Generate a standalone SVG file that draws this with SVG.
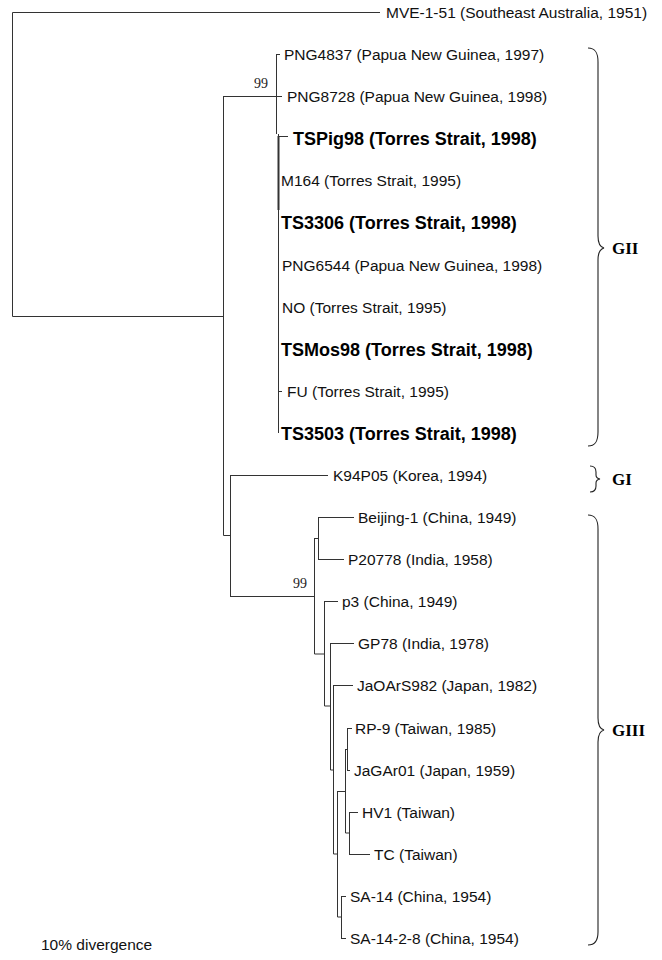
<svg xmlns="http://www.w3.org/2000/svg" width="662" height="960" viewBox="0 0 662 960">
<style>
.t{font-family:"Liberation Sans",Arial,sans-serif;font-size:15.5px;fill:#111}
.b{font-family:"Liberation Sans",Arial,sans-serif;font-size:18px;font-weight:bold;fill:#000}
.g{font-family:"Liberation Serif","Times New Roman",serif;font-size:17px;font-weight:bold;fill:#000}
.s{font-family:"Liberation Serif","Times New Roman",serif;font-size:14px;fill:#222}
.e{fill:none;stroke:#333;stroke-width:1}
.br{fill:none;stroke:#222;stroke-width:1.1}
</style>
<rect width="662" height="960" fill="#fff"/>
<g id="connectors" class="e">
<path d="M380,12.5H12.5V316.5H223.5"/>
<path d="M223.5,96.5V535.5H230.5"/>
<path d="M223,96.5H282"/>
<path d="M276.5,54V134"/>
<path d="M276,54.5H280"/>
<path d="M278.5,134V433"/>
<path d="M278,136.5H288"/>
<path d="M278.5,136V210" stroke-width="2"/>
<path d="M278,391.5H282"/>
<path d="M230.5,475V596"/>
<path d="M230,475.5H328"/>
<path d="M230,596.5H314.5"/>
<path d="M314.5,538V654H324"/>
<path d="M314,538.5H318.5"/>
<path d="M318.5,517V559"/>
<path d="M318,517.5H354"/>
<path d="M318,559.5H344"/>
<path d="M324.5,601V706H330"/>
<path d="M324,601.5H338"/>
<path d="M330.5,643V770H333"/>
<path d="M330,643.5H354"/>
<path d="M333.5,685V854H337"/>
<path d="M333,685.5H353"/>
<path d="M337.5,791V917H341"/>
<path d="M337,791.5H345.5"/>
<path d="M345.5,749V833H349"/>
<path d="M345,749.5H347.5"/>
<path d="M347.5,728V770"/>
<path d="M347,728.5H352"/>
<path d="M347,770.5H350"/>
<path d="M349.5,812V854"/>
<path d="M349,812.5H358"/>
<path d="M349,854.5H370"/>
<path d="M341.5,896V938"/>
<path d="M341,896.5H346"/>
<path d="M341,938.5H346"/>
</g>
<g id="bootstrap">
<text class="s" x="254" y="88">99</text>
<text class="s" x="293" y="588">99</text>
</g>
<g id="leaf-MVE"><text class="t" x="386" y="18">MVE-1-51 (Southeast Australia, 1951)</text></g>
<g id="leaf-PNG4837"><text class="t" x="284" y="59.5">PNG4837 (Papua New Guinea, 1997)</text></g>
<g id="leaf-PNG8728"><text class="t" x="287" y="101.5">PNG8728 (Papua New Guinea, 1998)</text></g>
<g id="leaf-TSPig98"><text class="b" x="293" y="144.5">TSPig98 (Torres Strait, 1998)</text></g>
<g id="leaf-M164"><text class="t" x="281" y="185.5">M164 (Torres Strait, 1995)</text></g>
<g id="leaf-TS3306"><text class="b" x="281" y="228.5">TS3306 (Torres Strait, 1998)</text></g>
<g id="leaf-PNG6544"><text class="t" x="282" y="270.5">PNG6544 (Papua New Guinea, 1998)</text></g>
<g id="leaf-NO"><text class="t" x="282" y="312.5">NO (Torres Strait, 1995)</text></g>
<g id="leaf-TSMos98"><text class="b" x="281" y="355.5">TSMos98 (Torres Strait, 1998)</text></g>
<g id="leaf-FU"><text class="t" x="287" y="396.5">FU (Torres Strait, 1995)</text></g>
<g id="leaf-TS3503"><text class="b" x="281" y="439.5">TS3503 (Torres Strait, 1998)</text></g>
<g id="leaf-K94P05"><text class="t" x="333" y="480.5">K94P05 (Korea, 1994)</text></g>
<g id="leaf-Beijing-1"><text class="t" x="358" y="522.5">Beijing-1 (China, 1949)</text></g>
<g id="leaf-P20778"><text class="t" x="348" y="564.5">P20778 (India, 1958)</text></g>
<g id="leaf-p3"><text class="t" x="342" y="606.5">p3 (China, 1949)</text></g>
<g id="leaf-GP78"><text class="t" x="358" y="648.5">GP78 (India, 1978)</text></g>
<g id="leaf-JaOArS982"><text class="t" x="357" y="690.5">JaOArS982 (Japan, 1982)</text></g>
<g id="leaf-RP-9"><text class="t" x="355" y="733.5">RP-9 (Taiwan, 1985)</text></g>
<g id="leaf-JaGAr01"><text class="t" x="354" y="775.5">JaGAr01 (Japan, 1959)</text></g>
<g id="leaf-HV1"><text class="t" x="362" y="817.5">HV1 (Taiwan)</text></g>
<g id="leaf-TC"><text class="t" x="374" y="859.5">TC (Taiwan)</text></g>
<g id="leaf-SA-14"><text class="t" x="350" y="901.5">SA-14 (China, 1954)</text></g>
<g id="leaf-SA-14-2-8"><text class="t" x="350" y="943.5">SA-14-2-8 (China, 1954)</text></g>
<g id="group-GII">
<path class="br" d="M588,48C595,48 598,52 598,62V236C598,244 600,247 604,248C600,249 598,252 598,260V432C598,442 595,446 588,446"/>
<text class="g" x="612" y="254">GII</text>
</g>
<g id="group-GI">
<path class="br" d="M590,466C594,466 596,468 596,472V475C596,477 597,478.5 600,479C597,479.5 596,481 596,483V486C596,490 594,492 590,492"/>
<text class="g" x="612" y="485">GI</text>
</g>
<g id="group-GIII">
<path class="br" d="M588,515C595,515 598,519 598,529V718C598,726 600,729 604,730C600,731 598,734 598,742V932C598,941 595,945 588,945"/>
<text class="g" x="612" y="736">GIII</text>
</g>
<g id="scale-label"><text class="t" x="41" y="950">10% divergence</text></g>
</svg>
